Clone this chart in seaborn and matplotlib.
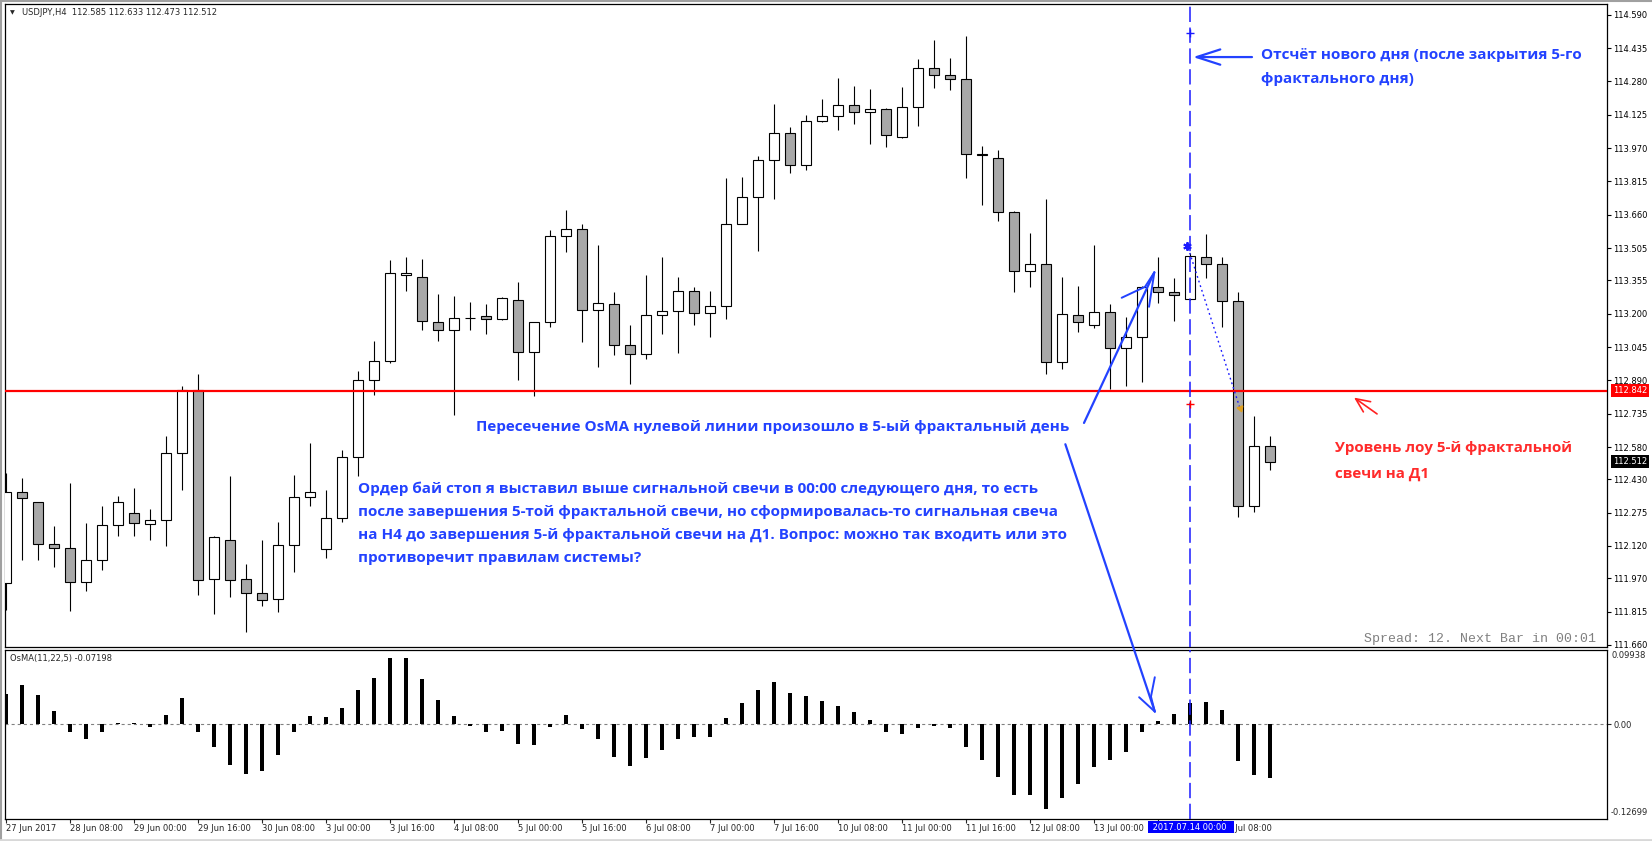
import numpy as np
import pandas as pd
import matplotlib
matplotlib.use("Agg")
import matplotlib.pyplot as plt
from matplotlib.patches import ConnectionPatch
import seaborn as sns

# ---------------- data (USDJPY H4, 80 bars) ----------------
opens = [111.946, 112.370, 112.323, 112.128, 112.109, 111.951, 112.053, 112.216, 112.272, 112.221,
         112.239, 112.551, 112.845, 111.965, 112.146, 111.965, 111.900, 111.872, 112.123, 112.346,
         112.104, 112.249, 112.535, 112.890, 112.978, 113.378, 113.369, 113.160, 113.123, 113.182,
         113.188, 113.174, 113.262, 113.020, 113.160, 113.560, 113.592, 113.216, 113.244, 113.053,
         113.011, 113.192, 113.211, 113.304, 113.202, 113.234, 113.615, 113.741, 113.913, 114.039,
         113.890, 114.094, 114.118, 114.169, 114.136, 114.150, 114.020, 114.159, 114.341, 114.308,
         114.290, 113.941, 113.922, 113.671, 113.397, 113.430, 112.974, 113.192, 113.146, 113.206,
         113.039, 113.090, 113.323, 113.299, 113.267, 113.462, 113.430, 113.257, 112.304, 112.585]
highs = [112.458, 112.435, 112.326, 112.213, 112.411, 112.225, 112.306, 112.352, 112.390, 112.292,
         112.631, 112.864, 112.920, 112.168, 112.444, 112.035, 112.146, 112.230, 112.449, 112.597,
         112.379, 112.565, 112.932, 113.072, 113.448, 113.462, 113.453, 113.290, 113.281, 113.253,
         113.245, 113.278, 113.347, 113.160, 113.589, 113.682, 113.617, 113.519, 113.301, 113.147,
         113.380, 113.464, 113.371, 113.324, 113.306, 113.831, 113.836, 113.933, 114.175, 114.068,
         114.122, 114.198, 114.296, 114.259, 114.245, 114.156, 114.254, 114.384, 114.472, 114.389,
         114.491, 113.978, 113.960, 113.679, 113.574, 113.732, 113.369, 113.327, 113.518, 113.244,
         113.183, 113.330, 113.462, 113.364, 113.481, 113.569, 113.462, 113.299, 112.723, 112.633]
lows = [111.822, 112.055, 112.055, 112.024, 111.819, 111.912, 112.008, 112.168, 112.168, 112.149,
        112.122, 112.382, 111.894, 111.805, 111.884, 111.722, 111.843, 111.812, 112.001, 112.308,
        112.066, 112.233, 112.447, 112.824, 112.972, 113.307, 113.126, 113.075, 112.731, 113.126,
        113.107, 113.169, 112.893, 112.819, 113.137, 113.488, 113.070, 112.954, 113.010, 112.875,
        112.991, 113.107, 113.019, 113.149, 113.093, 113.177, 113.615, 113.493, 113.735, 113.856,
        113.870, 114.090, 114.052, 114.083, 113.991, 113.977, 114.015, 114.074, 114.251, 114.242,
        113.829, 113.707, 113.629, 113.302, 113.326, 112.918, 112.944, 113.116, 113.132, 112.848,
        112.865, 112.884, 113.251, 113.168, 113.265, 113.367, 113.140, 112.253, 112.276, 112.473]
closes = [112.370, 112.342, 112.128, 112.109, 111.951, 112.053, 112.216, 112.323, 112.225, 112.239,
          112.551, 112.845, 111.962, 112.160, 111.960, 111.900, 111.867, 112.123, 112.346, 112.370,
          112.249, 112.535, 112.890, 112.978, 113.388, 113.388, 113.165, 113.123, 113.178, 113.180,
          113.174, 113.271, 113.020, 113.160, 113.560, 113.592, 113.216, 113.248, 113.053, 113.011,
          113.192, 113.211, 113.304, 113.202, 113.234, 113.615, 113.741, 113.913, 114.039, 113.890,
          114.094, 114.118, 114.169, 114.136, 114.150, 114.029, 114.159, 114.341, 114.308, 114.290,
          113.941, 113.940, 113.671, 113.397, 113.430, 112.974, 113.197, 113.160, 113.206, 113.039,
          113.090, 113.323, 113.299, 113.285, 113.467, 113.430, 113.257, 112.304, 112.583, 112.512]
osma = [0.0406, 0.0526, 0.0392, 0.0178, -0.0111, -0.0192, -0.0111, 0.0018, 0.0018, -0.0031,
        0.0125, 0.0352, -0.0111, -0.0299, -0.0553, -0.0673, -0.0633, -0.0419, -0.0098, 0.0111,
        0.0098, 0.0218, 0.0459, 0.0620, 0.0887, 0.0887, 0.0606, 0.0325, 0.0111, -0.0018,
        -0.0098, -0.0085, -0.0259, -0.0285, -0.0031, 0.0125, -0.0058, -0.0205, -0.0446, -0.0566,
        -0.0459, -0.0339, -0.0192, -0.0165, -0.0165, 0.0085, 0.0285, 0.0459, 0.0566, 0.0419,
        0.0379, 0.0312, 0.0245, 0.0165, 0.0058, -0.0111, -0.0138, -0.0045, -0.0018, -0.0045,
        -0.0312, -0.0486, -0.0713, -0.0954, -0.0954, -0.1141, -0.0994, -0.0807, -0.0580, -0.0473,
        -0.0366, -0.0111, 0.0045, 0.0138, 0.0285, 0.0299, 0.0192, -0.0499, -0.0687, -0.07198]

price_ticks = [114.590, 114.435, 114.280, 114.125, 113.970, 113.815, 113.660, 113.505, 113.355,
               113.200, 113.045, 112.890, 112.735, 112.580, 112.430, 112.275, 112.120, 111.970,
               111.815, 111.660]
time_tick_bars = [0, 4, 8, 12, 16, 20, 24, 28, 32, 36, 40, 44, 48, 52, 56, 60, 64, 68, 72, 76]
time_labels = ["27 Jun 2017", "28 Jun 08:00", "29 Jun 00:00", "29 Jun 16:00", "30 Jun 08:00",
               "3 Jul 00:00", "3 Jul 16:00", "4 Jul 08:00", "5 Jul 00:00", "5 Jul 16:00",
               "6 Jul 08:00", "7 Jul 00:00", "7 Jul 16:00", "10 Jul 08:00", "11 Jul 00:00",
               "11 Jul 16:00", "12 Jul 08:00", "13 Jul 00:00", "13 Jul 16:00", "14 Jul 08:00"]
osma_top, osma_bottom = 0.09938, -0.12699
red_level = 112.842
last_price = 112.512
marker_bar = 74
marker_label = "2017.07.14 00:00"

header_text = "USDJPY,H4  112.585 112.633 112.473 112.512"
osma_text = "OsMA(11,22,5) -0.07198"
spread_text = "Spread: 12. Next Bar in 00:01"
note_day = ["Отсчёт нового дня (после закрытия 5-го", "фрактального дня)"]
note_cross = "Пересечение OsMA нулевой линии произошло в 5-ый фрактальный день"
note_order = ["Ордер бай стоп я выставил выше сигнальной свечи в 00:00 следующего дня, то есть",
              "после завершения 5-той фрактальной свечи, но сформировалась-то сигнальная свеча",
              "на Н4 до завершения 5-й фрактальной свечи на Д1. Вопрос: можно так входить или это",
              "противоречит правилам системы?"]
note_low = ["Уровень лоу 5-й фрактальной", "свечи на Д1"]

# ---------------- style ----------------
sns.set_style("white")
plt.rcParams["font.family"] = ["DejaVu Sans"]
plt.rcParams["lines.scale_dashes"] = False

BLUE = "#2342FF"
RED_TXT = "#FF2B2B"
W, H = 1652, 841
fig = plt.figure(figsize=(W / 100, H / 100), dpi=100, facecolor="white")
ax = fig.add_axes([5 / W, 1 - 647 / H, 1602 / W, 643 / H])
ax2 = fig.add_axes([5 / W, 1 - 819 / H, 1602 / W, 169 / H])

df = pd.DataFrame({"bar": np.arange(len(opens)), "open": opens, "high": highs,
                   "low": lows, "close": closes, "osma": osma})
x = df["bar"].to_numpy()
o = df["open"].to_numpy(); c = df["close"].to_numpy()
up = c >= o
body_bottom = np.minimum(o, c)
body_h = np.maximum(np.abs(c - o), 0.0006)
colors = np.where(up, "white", "#A8A8A8")

# candles
ax.vlines(x, df["low"], df["high"], color="black", lw=0.8, zorder=2)
ax.bar(x, body_h, bottom=body_bottom, width=0.62, color=colors,
       edgecolor="black", linewidth=0.8, zorder=3)

ax.set_xlim(-0.0625, 100.0625)
ax.set_ylim(111.6504, 114.6397)

# OsMA histogram through seaborn
sns.barplot(data=df, x="bar", y="osma", native_scale=True, width=0.2, color="black",
            saturation=1, errorbar=None, linewidth=0, ax=ax2, zorder=3)
ax2.set_xlim(-0.0625, 100.0625)
ax2.set_ylim(osma_bottom, osma_top)
ax2.axhline(0, color="#808080", lw=0.8, dashes=(2.2, 2.2), zorder=2)
ax2.set_xlabel(""); ax2.set_ylabel("")

# spines
for a in (ax, ax2):
    for s in a.spines.values():
        s.set_color("black"); s.set_linewidth(0.9); s.set_visible(True)

# price axis
ax.yaxis.tick_right()
ax.set_yticks(price_ticks)
ax.set_yticklabels([f"{v:.3f}" for v in price_ticks])
ax.tick_params(axis="y", which="both", right=True, left=False, length=3, width=0.8,
               pad=1.5, labelsize=6, colors="black", direction="out")
ax.tick_params(axis="x", bottom=False, labelbottom=False)

ax2.yaxis.tick_right()
ax2.set_yticks([0])
ax2.set_yticklabels(["0.00"])
ax2.tick_params(axis="y", right=True, left=False, length=3, width=0.8, pad=1.5,
                labelsize=6, direction="out")
ax2.set_xticks(time_tick_bars)
ax2.set_xticklabels(time_labels)
ax2.tick_params(axis="x", bottom=True, length=3, width=0.8, pad=0.5, labelsize=6,
                direction="out")
for lab in ax2.get_xticklabels():
    lab.set_horizontalalignment("left")

ax2.annotate(f"{osma_top:.5f}", xy=(1, osma_top), xycoords=("axes fraction", "data"),
             xytext=(5, -1), textcoords="offset pixels", ha="left", va="top",
             fontsize=6, annotation_clip=False)
ax2.annotate(f"{osma_bottom:.5f}", xy=(1, osma_bottom), xycoords=("axes fraction", "data"),
             xytext=(4, 2), textcoords="offset pixels", ha="left", va="bottom",
             fontsize=6, annotation_clip=False)

# red level line and price boxes
ax.axhline(red_level, color="#FF0000", lw=1.6, zorder=4)
ax.annotate(f"{red_level:.3f}", xy=(1, red_level), xycoords=("axes fraction", "data"),
            xytext=(6, 0), textcoords="offset pixels", ha="left", va="center",
            fontsize=6, color="white", zorder=20, annotation_clip=False,
            bbox=dict(boxstyle="square,pad=0.25", fc="#FF0000", ec="none"))
ax.annotate(f"{last_price:.3f}", xy=(1, last_price), xycoords=("axes fraction", "data"),
            xytext=(6, 0), textcoords="offset pixels", ha="left", va="center",
            fontsize=6, color="white", zorder=20, annotation_clip=False,
            bbox=dict(boxstyle="square,pad=0.25", fc="black", ec="none"))

# vertical blue dashed marker line
for a in (ax, ax2):
    a.axvline(marker_bar, color="#1A1AFF", lw=1.1, dashes=(11, 4), zorder=6)
ax2.annotate(" " + marker_label + "  ", xy=(marker_bar, 0), xycoords=("data", "axes fraction"),
             xytext=(1, -8), textcoords="offset pixels", ha="center", va="center",
             fontsize=6, color="white", zorder=30, annotation_clip=False,
             bbox=dict(boxstyle="square,pad=0.2", fc="#0000FF", ec="none"))

# markers on the marker line
ax.plot([marker_bar], [114.505], marker="+", color="#1A1AFF", ms=6, mew=1, zorder=7)
ax.plot([marker_bar], [112.780], marker="+", color="#FF0000", ms=6, mew=1, zorder=7)
ax.plot([73.8], [113.515], marker=(6, 2, 0), color="#1A1AFF", ms=6, mew=1.4, zorder=8)
# dotted trend line
ax.plot([73.89, 77.125], [113.504, 112.760], color="#1A1AFF", lw=1, ls=(0, (1.3, 2.2)), zorder=7)
ax.plot([77.125], [112.760], marker=(3, 0, 200), color="#E0A020", ms=5, zorder=8)

# ---------------- annotations ----------------
renderer = fig.canvas.get_renderer()


def fit(texts, target):
    bb = texts[0].get_window_extent(renderer)
    size = texts[0].get_fontsize() * target / bb.width
    for t in texts:
        t.set_fontsize(size)


tf = dict(fontfamily="Open Sans", fontweight="bold", va="center", ha="left", zorder=10)
t1 = ax.text(78.44, 114.403, note_day[0], color=BLUE, fontsize=11, **tf)
t2 = ax.text(78.44, 114.290, note_day[1], color=BLUE, fontsize=11, **tf)
fit([t1, t2], 321)

t3 = ax.text(29.375, 112.675, note_cross, color=BLUE, fontsize=11, **tf)
fit([t3], 594)

order_y = [112.388, 112.279, 112.171, 112.063]
ot = [ax.text(22.0, yy, s, color=BLUE, fontsize=11, **tf) for s, yy in zip(note_order, order_y)]
fit([ot[2], ot[0], ot[1], ot[3]], 710)

r1 = ax.text(83.06, 112.574, note_low[0], color=RED_TXT, fontsize=11, **tf)
r2 = ax.text(83.06, 112.455, note_low[1], color=RED_TXT, fontsize=11, **tf)
fit([r1, r2], 238)

# arrows
ax.annotate("", xy=(74.19, 114.393), xytext=(77.875, 114.393),
            arrowprops=dict(arrowstyle="->,head_length=1.7,head_width=0.55", color=BLUE,
                            lw=1.6, shrinkA=0, shrinkB=0, mutation_scale=10), zorder=9)
ax.annotate("", xy=(84.25, 112.81), xytext=(85.69, 112.734),
            arrowprops=dict(arrowstyle="->,head_length=1.0,head_width=0.45", color="#FF2020",
                            lw=1.2, shrinkA=0, shrinkB=0, mutation_scale=10), zorder=9)

ax.plot([67.375, 71.77], [112.692, 113.392], color=BLUE, lw=1.6, zorder=9,
        solid_capstyle="round")
ax.plot([69.73, 71.19, 71.77], [113.274, 113.325, 113.392], color=BLUE, lw=1.4, zorder=9)
ax.plot([71.44, 71.77], [113.232, 113.392], color=BLUE, lw=1.4, zorder=9)

con = ConnectionPatch(xyA=(66.21, 112.593), coordsA=ax.transData,
                      xyB=(71.8, 0.0169), coordsB=ax2.transData,
                      color=BLUE, lw=1.6, zorder=9)
fig.add_artist(con)
ax2.plot([71.8, 71.56, 71.8], [0.0629, 0.0369, 0.0169], color=BLUE, lw=1.4, zorder=9)
ax2.plot([70.82, 71.8], [0.0361, 0.0169], color=BLUE, lw=1.4, zorder=9)

# spread / header texts
ax.text(99.375, 111.688, spread_text, fontfamily="Liberation Mono", fontsize=9.5,
        color="#808080", ha="right", va="center", zorder=10)
fig.text(10 / W, 1 - 13 / H, "\u25BC", fontsize=4.5, va="center", ha="left")
fig.text(21.5 / W, 1 - 12.7 / H, header_text, fontsize=6, va="center", ha="left")
fig.text(10.5 / W, 1 - 658.7 / H, osma_text, fontsize=6, va="center", ha="left")

# window frame lines
fig.add_artist(plt.Line2D([1 / W, 1 / W], [0, 1], color="#A0A0A0", lw=1.5))
fig.add_artist(plt.Line2D([0, 1], [1 - 0.8 / H, 1 - 0.8 / H], color="#A0A0A0", lw=1.5))
fig.add_artist(plt.Line2D([0, 1], [1.5 / H, 1.5 / H], color="#D8D8D8", lw=2))

fig.savefig("out.png", dpi=100, facecolor="white")
